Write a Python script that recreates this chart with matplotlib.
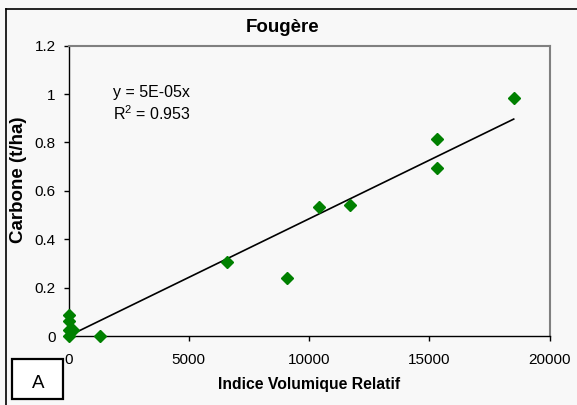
import numpy as np
import matplotlib
matplotlib.use("Agg")
import matplotlib.pyplot as plt
from matplotlib.patches import Rectangle
from matplotlib.lines import Line2D

# Relative volume index vs. carbon stock for bracken fern plots
indice_volumique = [0, 0, 0, 200, 0, 1300, 6600, 9100, 10400, 11700, 15300, 15300, 18500]
carbone = [0.087, 0.063, 0.025, 0.025, 0.0, 0.0, 0.307, 0.238, 0.533, 0.541, 0.695, 0.813, 0.985]

x_ticks = [0, 5000, 10000, 15000, 20000]
y_ticks = [0, 0.2, 0.4, 0.6, 0.8, 1, 1.2]
y_tick_labels = ["0", "0.2", "0.4", "0.6", "0.8", "1", "1.2"]

titre = "Fougère"
label_x = "Indice Volumique Relatif"
label_y = "Carbone (t/ha)"
equation = "y = 5E-05x"
r2_text = "R$^2$ = 0.953"
panel = "A"

plt.rcParams["font.family"] = ["Liberation Sans", "DejaVu Sans"]
plt.rcParams["mathtext.fontset"] = "custom"
plt.rcParams["mathtext.rm"] = "Liberation Sans"

W, H = 577, 405
bg = "#f8f8f8"
fig = plt.figure(figsize=(W / 100, H / 100), dpi=100, facecolor=bg)

def fx(px):
    return px / W

def fy(py):
    return 1 - py / H

left, right, top, bottom = 68.5, 549.8, 45.7, 336.0
ax = fig.add_axes([fx(left), fy(bottom), fx(right - left), (bottom - top) / H])
ax.set_facecolor(bg)

x = np.array(indice_volumique, dtype=float)
y = np.array(carbone, dtype=float)

# Linear trend forced through the origin
slope = np.sum(x * y) / np.sum(x * x)
xl = np.array([0, x.max()])
ax.plot(xl, slope * xl, color="black", lw=1.2, zorder=2)

ax.plot(x, y, linestyle="none", marker="D", markersize=6.3,
        color="#008000", markeredgecolor="#008000", zorder=3, clip_on=False)

ax.set_xlim(0, 20000)
ax.set_ylim(0, 1.2)
ax.set_xticks(x_ticks)
ax.set_xticklabels([str(t) for t in x_ticks])
ax.set_yticks(y_ticks)
ax.set_yticklabels(y_tick_labels)
ax.tick_params(axis="both", direction="out", length=3.6, width=1.0,
               labelsize=11, colors="black")
ax.tick_params(axis="x", pad=8.5)
ax.tick_params(axis="y", pad=5.5)

for s in ("left", "bottom"):
    ax.spines[s].set_color("black")
    ax.spines[s].set_linewidth(1.0)
for s in ("top", "right"):
    ax.spines[s].set_color("#808080")
    ax.spines[s].set_linewidth(1.5)

# Titles and axis labels
fig.text(fx(283), fy(27), titre, ha="center", va="center",
         fontsize=13.5, fontweight="bold")
fig.text(fx(309), fy(385), label_x, ha="center", va="center",
         fontsize=11.3, fontweight="bold")
fig.text(fx(18.5), fy(180), label_y, ha="center", va="center",
         rotation=90, fontsize=13.5, fontweight="bold")

# Trendline equation
fig.text(fx(113), fy(92), equation, ha="left", va="center", fontsize=11.5)
fig.text(fx(113), fy(114), r2_text, ha="left", va="center", fontsize=11.5)

# Outer chart frame (left and top edges)
fig.add_artist(Line2D([fx(6), fx(6)], [fy(9), fy(420)], color="black", lw=1.2,
                      transform=fig.transFigure))
fig.add_artist(Line2D([fx(6), fx(600)], [fy(9), fy(9)], color="black", lw=1.2,
                      transform=fig.transFigure))

# Panel letter box
fig.add_artist(Rectangle((fx(12), fy(399)), fx(63 - 12), (399 - 359) / H,
                         facecolor="white", edgecolor="black", lw=1.6,
                         transform=fig.transFigure, zorder=5))
fig.text(fx(38), fy(383), panel, ha="center", va="center", fontsize=13.5,
         zorder=6)

fig.savefig("out.png", dpi=100, facecolor=bg)
